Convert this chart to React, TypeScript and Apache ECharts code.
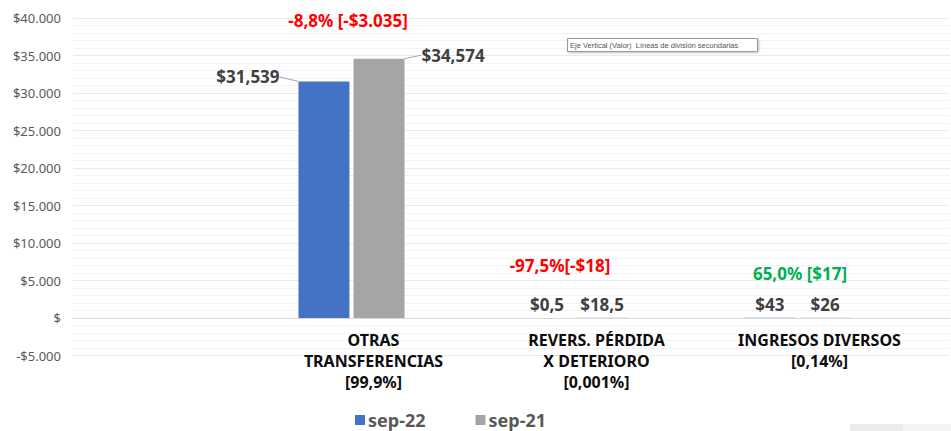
import React, { useEffect, useRef } from "react";
import * as echarts from "echarts";

const categories = [
  "OTRAS\nTRANSFERENCIAS\n[99,9%]",
  "REVERS. PÉRDIDA\nX DETERIORO\n[0,001%]",
  "INGRESOS DIVERSOS\n[0,14%]",
];
const seriesNames = ["sep-22", "sep-21"];
const sep22 = [31539, 0.5, 43];
const sep21 = [34574, 18.5, 26];
const changeLabels = ["-8,8% [-$3.035]", "-97,5%[-$18]", "65,0% [$17]"];
const changeColors = ["#ff0000", "#ff0000", "#00b050"];
const yMin = -5000;
const yMax = 40000;
const yInterval = 5000;

const FONT = "'Noto Sans', 'DejaVu Sans', sans-serif";

function fmtValue(v: number): string {
  if (v >= 1000) return "$" + v.toLocaleString("en-US");
  if (!Number.isInteger(v)) return "$" + String(v).replace(".", ",");
  return "$" + v;
}

function fmtAxis(v: number): string {
  if (v === 0) return "$";
  const s = Math.abs(v).toString().replace(/\B(?=(\d{3})+(?!\d))/g, ".");
  return (v < 0 ? "-$" : "$") + s;
}

export default function App() {
  const ref = useRef<HTMLDivElement>(null);
  useEffect(() => {
    if (!ref.current) return;
    const chart = echarts.init(ref.current, undefined, { renderer: "svg" });
    const gridTop = 18;
    const gridBottom = 75.5;
    const zeroBottom = 113;
    const valueLabel = {
      show: true,
      position: "top" as const,
      distance: 5,
      color: "#404040",
      fontFamily: FONT,
      fontWeight: "bold" as const,
      fontSize: 17,
      formatter: (p: any) => fmtValue(p.value),
    };
    const moved = (dx: number, dy: number) => (params: any) =>
      params.dataIndex === 0 ? { dx, dy } : {};
    const mkData = (vals: number[]) =>
      vals.map((v, i) =>
        i === 0
          ? { value: v, labelLine: { show: true, lineStyle: { color: "#a6a6a6", width: 1 } } }
          : { value: v }
      );
    const annCenters = [348, 560, 800];
    const annY = [20, 265, 273];
    const option: any = {
      animation: false,
      backgroundColor: "#ffffff",
      grid: [
        { left: 73, right: 1, top: gridTop, bottom: gridBottom },
        { left: 240, width: 669, top: gridTop, bottom: zeroBottom },
      ],
      xAxis: [
        {
          gridIndex: 0,
          type: "category",
          data: [""],
          axisLine: { show: true, onZero: true, lineStyle: { color: "#d9d9d9", width: 1 } },
          axisTick: { show: false },
          axisLabel: { show: false },
          splitLine: { show: false },
        },
        {
          gridIndex: 1,
          type: "category",
          data: categories,
          axisLine: { show: false },
          axisTick: { show: false },
          axisLabel: {
            interval: 0,
            margin: 11,
            color: "#0d0d0d",
            fontFamily: FONT,
            fontWeight: "bold",
            fontSize: 16,
            lineHeight: 21,
            align: "center",
            padding: [0, 0, 0, 44],
          },
        },
      ],
      yAxis: [
        {
          gridIndex: 0,
          type: "value",
          min: yMin,
          max: yMax,
          interval: yInterval,
          axisLine: { show: false },
          axisTick: { show: false },
          axisLabel: {
            margin: 12,
            color: "#595959",
            fontFamily: FONT,
            fontSize: 13,
            formatter: fmtAxis,
          },
          splitLine: { show: true, lineStyle: { color: "#ebebeb", width: 1 } },
          minorTick: { show: false, splitNumber: 5 },
          minorSplitLine: { show: true, lineStyle: { color: "#f3f3f3", width: 1 } },
        },
        {
          gridIndex: 1,
          type: "value",
          min: 0,
          max: yMax,
          interval: yInterval,
          axisLine: { show: false },
          axisTick: { show: false },
          axisLabel: { show: false },
          splitLine: { show: false },
        },
      ],
      legend: {
        left: 355,
        top: 410,
        padding: 0,
        itemWidth: 10,
        itemHeight: 10,
        itemGap: 50,
        icon: "rect",
        textStyle: {
          color: "#595959",
          fontFamily: FONT,
          fontWeight: "bold",
          fontSize: 18,
          lineHeight: 20,
          padding: [0, 0, 0, -2],
        },
        data: seriesNames,
      },
      series: [
        {
          name: seriesNames[0],
          type: "bar",
          xAxisIndex: 1,
          yAxisIndex: 1,
          barWidth: 51,
          barGap: "8%",
          itemStyle: { color: "#4472c4" },
          data: mkData(sep22),
          label: valueLabel,
          labelLayout: moved(-76, 9),
        },
        {
          name: seriesNames[1],
          type: "bar",
          xAxisIndex: 1,
          yAxisIndex: 1,
          barWidth: 51,
          barGap: "8%",
          itemStyle: { color: "#a5a5a5" },
          data: mkData(sep21),
          label: valueLabel,
          labelLayout: moved(74, 10),
        },
      ],
      graphic: [
        ...changeLabels.map((t, i) => ({
          type: "text",
          z: 100,
          x: annCenters[i],
          y: annY[i],
          style: {
            text: t,
            fill: changeColors[i],
            font: `bold 17px ${FONT}`,
            align: "center",
            verticalAlign: "middle",
          },
        })),
        {
          type: "rect",
          z: 100,
          shape: { x: 567.5, y: 38.5, width: 190, height: 13 },
          style: {
            fill: "#ffffff",
            stroke: "#9a9a9a",
            lineWidth: 1,
            shadowBlur: 2,
            shadowColor: "rgba(0,0,0,0.25)",
            shadowOffsetX: 1,
            shadowOffsetY: 1,
          },
        },
        {
          type: "text",
          z: 101,
          x: 570,
          y: 45,
          style: {
            text: "Eje Vertical (Valor)  Líneas de división secundarias",
            fill: "#555555",
            font: "7.5px 'Liberation Sans', sans-serif",
            verticalAlign: "middle",
          },
        },
        {
          type: "rect",
          z: 100,
          shape: { x: 850, y: 424, width: 53, height: 7 },
          style: { fill: "#ebebeb" },
        },
        {
          type: "rect",
          z: 100,
          shape: { x: 903, y: 424, width: 48, height: 7 },
          style: { fill: "#f4f4f4" },
        },
      ],
    };
    chart.setOption(option);
    return () => chart.dispose();
  }, []);
  return (
    <div
      ref={ref}
      style={{ position: "fixed", left: 0, top: 0, width: 951, height: 431, background: "#fff" }}
    />
  );
}
